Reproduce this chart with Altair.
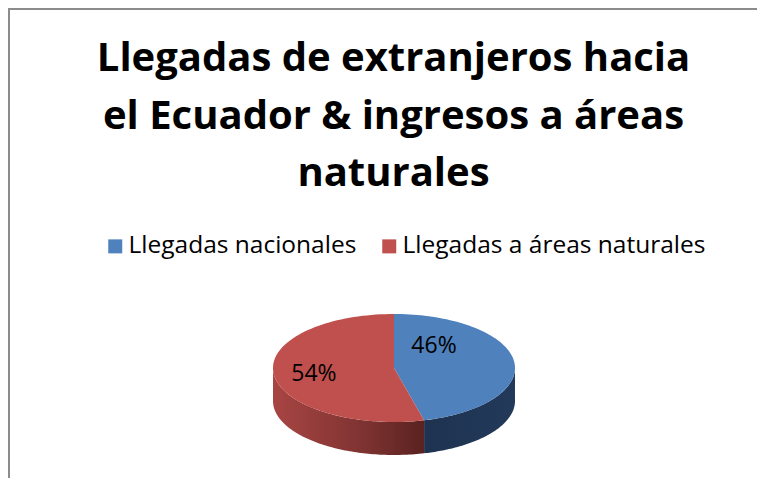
import altair as alt
import pandas as pd

# ---- data ----
categories = ["Llegadas nacionales", "Llegadas a áreas naturales"]
percents = [46, 54]
top_colors = ["#4F81BD", "#C0504D"]
title_lines = ["Llegadas de extranjeros hacia", "el Ecuador & ingresos a áreas", "naturales"]

# ---- layout (pixels of the plot area) ----
W, H = 749, 470
CX, CY = 386, 360      # pie centre
RX, RY = 121, 54       # ellipse semi-axes (tilted pie)
DEPTH = 33 / RY        # side thickness in y units
N = 90                 # arc resolution
LRX, LRY = 0.5, 2.0    # label placement factors

xdom = [-CX / RX, (W - CX) / RX]
ydom = [-(H - CY) / RY, CY / RY]

df = pd.DataFrame({"category": categories, "value": percents,
                   "idx": list(range(len(categories)))})

base = alt.Chart(df).transform_window(
    cum="sum(value)", sort=[alt.SortField("idx")], frame=[None, 0]
).transform_joinaggregate(total="sum(value)").transform_calculate(
    a0="2*PI*(datum.cum - datum.value)/datum.total",
    a1="2*PI*datum.cum/datum.total",
)

xs = alt.Scale(domain=xdom, nice=False, zero=False)
ys = alt.Scale(domain=ydom, nice=False, zero=False)
X = alt.X("px:Q", scale=xs, axis=None)
Y = alt.Y("py:Q", scale=ys, axis=None)

FONT = "Open Sans"

legend = alt.Legend(orient="none", legendX=95, legendY=226, direction="horizontal",
                    title=None, symbolType="square", symbolSize=196,
                    labelFont=FONT, labelFontSize=24.5, labelColor="black",
                    labelOffset=1, columnPadding=20, symbolStrokeWidth=0,
                    padding=0, labelLimit=400)

top = base.transform_calculate(
    k=f"sequence(0, {N + 2})"
).transform_flatten(["k"]).transform_calculate(
    t=f"datum.a0 + (datum.a1 - datum.a0) * min(datum.k, {N}) / {N}",
    rr=f"datum.k <= {N} ? 1 : 0",
).transform_calculate(
    px="datum.rr * sin(datum.t)",
    py="datum.rr * cos(datum.t)",
).mark_line(strokeWidth=0).encode(
    x=X, y=Y, order=alt.Order("k:Q"), detail="category:N",
    fill=alt.Fill("category:N", scale=alt.Scale(domain=categories, range=top_colors),
                  legend=legend),
)


def side(cat, stops):
    grad = alt.LinearGradient(
        gradient="linear", x1=0, x2=1, y1=0, y2=0,
        stops=[alt.GradientStop(color=c, offset=o) for c, o in stops])
    return base.transform_filter(alt.datum.category == cat).transform_calculate(
        s0="max(datum.a0, PI/2)", s1="min(datum.a1, 3*PI/2)"
    ).transform_filter("datum.s1 > datum.s0").transform_calculate(
        k=f"sequence(0, {2 * N + 2})"
    ).transform_flatten(["k"]).transform_calculate(
        t=(f"datum.k <= {N} ? datum.s0 + (datum.s1 - datum.s0) * datum.k / {N}"
           f" : datum.s1 - (datum.s1 - datum.s0) * (datum.k - {N + 1}) / {N}"),
        dz=f"datum.k <= {N} ? 0 : {DEPTH}",
    ).transform_calculate(
        px="sin(datum.t)", py="cos(datum.t) - datum.dz"
    ).mark_line(fill=grad, strokeWidth=0).encode(x=X, y=Y, order=alt.Order("k:Q"))


side_blue = side(categories[0], [("#1E3350", 0), ("#22395A", 1)])
side_red = side(categories[1], [("#A84543", 0), ("#7E3331", 0.6), ("#5A2220", 1)])

labels = base.transform_calculate(
    mid="(datum.a0 + datum.a1) / 2"
).transform_calculate(
    px=f"{LRX} * sin(datum.mid)",
    py=f"{LRY} * cos(datum.mid)",
    lbl="datum.value + '%'",
).mark_text(font=FONT, fontSize=23, color="black", dx=-20, dy=-8,
            baseline="middle", align="center").encode(x=X, y=Y, text="lbl:N")

frame = pd.DataFrame({"f": [0]})
border_left = alt.Chart(frame).mark_rule(color="#8C8C8C", strokeWidth=2).encode(
    x=alt.value(1), y=alt.value(0), y2=alt.value(H))
border_top = alt.Chart(frame).mark_rule(color="#8C8C8C", strokeWidth=2).encode(
    x=alt.value(0), x2=alt.value(W), y=alt.value(1))

chart = alt.layer(side_blue, side_red, top, labels, border_left, border_top).properties(
    width=W, height=H,
    title=alt.TitleParams(text=title_lines, font=FONT, fontSize=40, fontWeight="bold",
                          color="black", anchor="middle", frame="group", offset=-187,
                          dx=11, baseline="top", lineHeight=57.5),
    padding=0,
    autosize=alt.AutoSizeParams(type="none"),
).configure_view(stroke="transparent")

chart.save("out.html", embed_options={"renderer": "svg", "actions": False})
